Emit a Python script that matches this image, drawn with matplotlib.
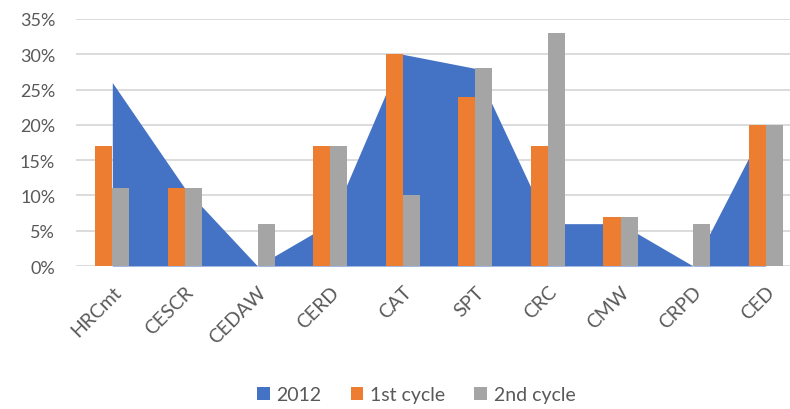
import matplotlib
matplotlib.use("Agg")
import matplotlib.pyplot as plt
import numpy as np
from matplotlib.ticker import PercentFormatter

categories = ["HRCmt", "CESCR", "CEDAW", "CERD", "CAT", "SPT", "CRC", "CMW", "CRPD", "CED"]
series_2012 = [26, 11, 0, 6, 30, 28, 6, 6, 0, 20]
first_cycle = [17, 11, 0, 17, 30, 24, 17, 7, 0, 20]
second_cycle = [11, 11, 6, 17, 10, 28, 33, 7, 6, 20]
yticks = [0, 5, 10, 15, 20, 25, 30, 35]

plt.rcParams['font.family'] = ['Lato', 'DejaVu Sans']

fig = plt.figure(figsize=(7.9, 4.1), dpi=100)
ax = fig.add_axes([76/790, (410-267)/410, (802-76)/790, (267-20)/410])

x = np.arange(len(categories))
bw = 0.236
ax.fill_between(x, 0, series_2012, color="#4472C4", linewidth=0, zorder=2, label="2012")
ax.bar(x - bw/2, first_cycle, width=bw, color="#ED7D31", zorder=3, label="1st cycle")
ax.bar(x + bw/2, second_cycle, width=bw, color="#A5A5A5", zorder=3, label="2nd cycle")

ax.set_xlim(-0.5, len(categories) - 0.5)
ax.set_ylim(0, 35)
ax.set_yticks(yticks)
ax.yaxis.set_major_formatter(PercentFormatter(decimals=0))
ax.grid(axis="y", color="#D9D9D9", linewidth=1.3, zorder=0)
ax.set_axisbelow(True)
for s in ax.spines.values():
    s.set_visible(False)
ax.tick_params(axis="both", length=0, colors="#595959")
ax.tick_params(axis="y", pad=15, labelsize=13)
ax.set_xticks(x)
ax.set_xticklabels(categories, rotation=45, ha="right", va="top", rotation_mode="anchor")
ax.tick_params(axis="x", pad=12, labelsize=14)

leg = fig.legend(loc="center", bbox_to_anchor=(0.527, 0.035), ncol=3, frameon=False,
                 fontsize=14, handlelength=0.65, handleheight=0.65, handletextpad=0.35,
                 columnspacing=1.5, labelcolor="#595959")

fig.savefig("out.png", dpi=100)
